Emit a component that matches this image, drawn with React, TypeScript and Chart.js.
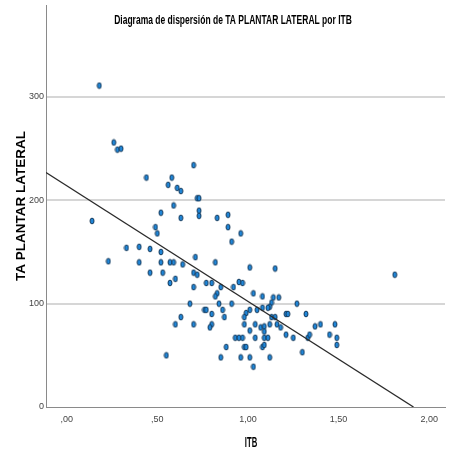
import React, { useEffect, useRef } from "react";
import { Chart, registerables } from "chart.js";

Chart.register(...registerables);

const titleText = "Diagrama de dispersión de TA PLANTAR LATERAL por ITB";
const xTitle = "ITB";
const yTitle = "TA PLANTAR LATERAL";

const itb = [
  0.18, 0.26, 0.28, 0.30, 0.70, 0.44, 0.58, 0.56, 0.61, 0.63,
  0.72, 0.73, 0.59, 0.73, 0.73, 0.52, 0.63, 0.83, 0.89, 0.89,
  0.14, 0.49, 0.50, 0.96, 0.91, 0.33, 0.40, 0.46, 0.52, 0.71,
  0.23, 0.40, 0.52, 0.57, 0.59, 0.64, 0.82, 1.01, 1.15, 1.81,
  0.46, 0.53, 0.57, 0.60, 0.70, 0.72, 0.70, 0.77, 0.80, 0.85,
  0.92, 0.95, 0.97, 0.83, 0.82, 1.03, 1.08, 1.14, 1.17, 0.68,
  0.84, 0.91, 1.27, 1.13, 1.12, 1.11, 1.08, 1.05, 1.01, 0.76,
  0.77, 0.86, 0.80, 0.99, 0.98, 0.87, 0.63, 1.13, 1.15, 1.21,
  1.22, 1.32, 0.60, 0.70, 0.80, 0.79, 0.98, 1.04, 1.07, 1.09,
  1.09, 1.12, 1.16, 1.18, 1.01, 1.37, 1.40, 1.48, 1.21, 1.25,
  1.33, 1.34, 1.45, 1.49, 1.49, 0.93, 0.95, 0.97, 1.04, 1.09,
  1.11, 0.98, 0.99, 1.08, 1.09, 0.88, 1.30, 0.55, 0.85, 0.96,
  1.01, 1.12, 1.03,
];

const taPlantarLateral = [
  311, 256, 249, 250, 234, 222, 222, 215, 212, 209,
  202, 202, 195, 190, 185, 188, 183, 183, 186, 174,
  180, 174, 168, 168, 160, 154, 155, 153, 150, 145,
  141, 140, 140, 140, 140, 138, 140, 135, 134, 128,
  130, 130, 120, 124, 130, 128, 116, 120, 120, 116,
  116, 121, 120, 110, 107, 110, 107, 106, 106, 100,
  100, 100, 100, 101, 97, 96, 96, 94, 94, 94,
  94, 94, 90, 91, 87, 87, 87, 87, 87, 90,
  90, 90, 80, 80, 80, 77, 80, 80, 77, 78,
  73, 80, 80, 77, 74, 78, 80, 80, 70, 67,
  67, 70, 70, 67, 60, 67, 67, 67, 67, 67,
  67, 58, 58, 58, 60, 58, 53, 50, 48, 48,
  48, 48, 39,
];

const xTickValues = [0, 0.5, 1, 1.5, 2];
const xTickLabels = [",00", ",50", "1,00", "1,50", "2,00"];
const yTickValues = [0, 100, 200, 300];
const yTickLabels = ["0", "100", "200", "300"];

const xMin = -0.114;
const xMax = 2.087;
const yMin = 0;
const yMax = 389;

const fitIntercept = 214.1;
const fitSlope = -111.9;

// horizontal condensing of the two titles (SPSS uses a condensed face)
const titleFit = { center: 233, sx: 0.63 };
const xTitleFit = { center: 251, sx: 0.55 };

const sans = "'Liberation Sans', Arial, sans-serif";

const squishPlugin = {
  id: "squishTitles",
  beforeDraw(chart: any) {
    chart.boxes.forEach((box: any) => {
      if (box.__squished || !box.options || typeof box.options.text !== "string") return;
      const cfg =
        box.options.text === titleText ? titleFit : box.options.text === xTitle ? xTitleFit : null;
      if (!cfg) return;
      const orig = box.draw;
      box.draw = function (...args: any[]) {
        const ctx = this.ctx;
        const mid = (this.left + this.right) / 2;
        ctx.save();
        ctx.translate(cfg.center, 0);
        ctx.scale(cfg.sx, 1);
        ctx.translate(-mid, 0);
        orig.apply(this, args);
        ctx.restore();
      };
      box.__squished = true;
    });
  },
};

export default function App() {
  const canvasRef = useRef<HTMLCanvasElement | null>(null);

  useEffect(() => {
    if (!canvasRef.current) return;

    const marker = document.createElement("canvas");
    marker.width = 6;
    marker.height = 8;
    const mctx = marker.getContext("2d");
    if (mctx) {
      mctx.beginPath();
      mctx.ellipse(3, 4, 2.0, 2.9, 0, 0, Math.PI * 2);
      mctx.fillStyle = "#1f86d8";
      mctx.fill();
      mctx.lineWidth = 0.9;
      mctx.strokeStyle = "#12304d";
      mctx.stroke();
    }

    const points = itb.map((x, i) => ({ x, y: taPlantarLateral[i] }));
    const fitEndX = -fitIntercept / fitSlope;
    const fitLine = [
      { x: xMin, y: fitIntercept + fitSlope * xMin },
      { x: fitEndX, y: 0 },
    ];

    const chart = new Chart(canvasRef.current, {
      type: "scatter",
      data: {
        datasets: [
          {
            type: "line",
            data: fitLine,
            borderColor: "#2b2b2b",
            borderWidth: 1.3,
            pointRadius: 0,
            fill: false,
            order: 0,
          } as any,
          {
            data: points,
            pointStyle: marker as any,
            pointRadius: 3,
            order: 1,
          },
        ],
      },
      plugins: [squishPlugin],
      options: {
        animation: false,
        responsive: true,
        maintainAspectRatio: false,
        layout: { padding: 0 },
        plugins: {
          legend: { display: false },
          tooltip: { enabled: false },
          title: {
            display: true,
            text: titleText,
            color: "#000",
            font: { family: sans, weight: "bold", size: 13.5, lineHeight: 1.2 },
            padding: { top: 12.6, bottom: -23.8 },
          },
          subtitle: {
            display: true,
            position: "bottom",
            text: xTitle,
            color: "#000",
            font: { family: sans, weight: "bold", size: 14, lineHeight: 1.2 },
            padding: { top: -18.4, bottom: 1.6 },
          },
        },
        scales: {
          x: {
            type: "linear",
            min: xMin,
            max: xMax,
            afterBuildTicks: (scale: any) => {
              scale.ticks = xTickValues.map((v) => ({ value: v }));
            },
            afterFit: (scale: any) => {
              scale.height = 46;
              scale.paddingLeft = 0;
              scale.paddingRight = 0;
            },
            ticks: {
              color: "#444",
              font: { family: sans, size: 9 },
              padding: 7,
              maxRotation: 0,
              autoSkip: false,
              callback: (v: any) => {
                const i = xTickValues.indexOf(Number(v));
                return i >= 0 ? xTickLabels[i] : "";
              },
            },
            grid: { color: "rgba(0,0,0,0)", drawTicks: false },
            border: { display: true, color: "#8a8a8a", width: 1 },
            title: { display: false },
          },
          y: {
            type: "linear",
            position: "left",
            min: yMin,
            max: yMax,
            afterBuildTicks: (scale: any) => {
              scale.ticks = yTickValues.map((v) => ({ value: v }));
            },
            afterFit: (scale: any) => {
              scale.width = 46;
              scale.paddingTop = 0;
              scale.paddingBottom = 0;
            },
            ticks: {
              color: "#444",
              font: { family: sans, size: 9 },
              padding: 2,
              autoSkip: false,
              callback: (v: any) => {
                const i = yTickValues.indexOf(Number(v));
                return i >= 0 ? yTickLabels[i] : "";
              },
            },
            grid: {
              color: (ctx: any) =>
                ctx.tick && ctx.tick.value === 0 ? "rgba(0,0,0,0)" : "#d6d6d6",
              lineWidth: 2,
              drawTicks: false,
            },
            border: { display: true, color: "#8a8a8a", width: 1 },
            title: {
              display: true,
              text: yTitle,
              color: "#000",
              font: { family: sans, weight: "bold", size: 13.5, lineHeight: 1.2 },
              padding: { top: 13.4, bottom: 0 },
            },
          },
        },
      },
    });

    return () => chart.destroy();
  }, []);

  return (
    <div style={{ position: "absolute", left: 0, top: 0, width: 450, height: 453, background: "#fff" }}>
      <canvas ref={canvasRef} />
    </div>
  );
}
